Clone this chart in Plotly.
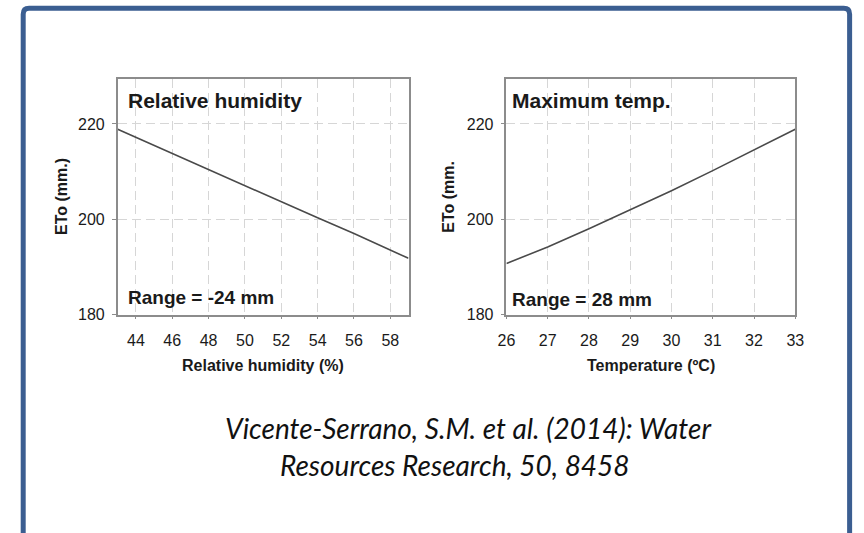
import plotly.graph_objects as go

# ---- data ----
rh_x = [43, 44, 46, 48, 50, 52, 54, 56, 58, 59]
rh_eto = [218.9, 217.2, 213.8, 210.5, 207.1, 203.7, 200.3, 197.0, 193.5, 191.8]
tmax_x = [26, 27, 28, 29, 30, 31, 32, 33]
tmax_eto = [190.7, 194.2, 198.0, 202.0, 206.0, 210.2, 214.5, 218.9]
rh_ticks = [44, 46, 48, 50, 52, 54, 56, 58]
t_ticks = [26, 27, 28, 29, 30, 31, 32, 33]
y_ticks = [180, 200, 220]

W, H = 864, 533
def px(x):
    return x / W
def py(y):
    return 1 - y / H

LINE = "#4a4a4a"
FRAME = "#8c8c8c"
GRID = "#d6d6d6"
TXT = "#1a1a1a"
FONT = "Liberation Sans, Arial, sans-serif"

fig = go.Figure()
fig.add_trace(go.Scatter(x=rh_x, y=rh_eto, mode="lines",
                         line=dict(color=LINE, width=1.6), xaxis="x", yaxis="y",
                         showlegend=False, hoverinfo="skip"))
fig.add_trace(go.Scatter(x=tmax_x, y=tmax_eto, mode="lines",
                         line=dict(color=LINE, width=1.6), xaxis="x2", yaxis="y2",
                         showlegend=False, hoverinfo="skip"))

ydom = [py(320), py(80)]
common_x = dict(showline=True, mirror=True, linecolor=FRAME, linewidth=1.5,
                showgrid=True, gridcolor=GRID, griddash="9px,5px", gridwidth=1,
                ticks="outside", ticklen=3, tickcolor=FRAME, zeroline=False,
                tickfont=dict(family=FONT, size=16, color=TXT), ticklabelstandoff=7)
common_y = dict(showline=True, mirror=True, linecolor=FRAME, linewidth=1.5,
                showgrid=True, gridcolor=GRID, griddash="9px,5px", gridwidth=1,
                ticks="outside", ticklen=4, tickcolor=FRAME, zeroline=False,
                range=[180, 229.5], tickvals=y_ticks,
                tickfont=dict(family=FONT, size=16, color=TXT), ticklabelstandoff=4)

fig.update_layout(
    width=W, height=H, margin=dict(l=0, r=0, t=0, b=0),
    paper_bgcolor="white", plot_bgcolor="white",
    xaxis=dict(domain=[px(111), px(408)], range=[43, 59], tickvals=rh_ticks,
               anchor="y", **common_x),
    yaxis=dict(domain=ydom, anchor="x", **common_y),
    xaxis2=dict(domain=[px(508), px(803)], range=[26, 33], tickvals=t_ticks,
                anchor="y2", **common_x),
    yaxis2=dict(domain=ydom, anchor="x2", **common_y),
)

ann = []
bold = dict(family=FONT, size=16, color=TXT)
# axis titles
ann.append(dict(text="<b>ETo (mm.)</b>", xref="paper", yref="paper", x=px(53.5), y=py(200),
                textangle=-90, showarrow=False, font=bold, xanchor="center", yanchor="middle"))
ann.append(dict(text="<b>ETo (mm.</b>", xref="paper", yref="paper", x=px(448.5), y=py(200),
                textangle=-90, showarrow=False, font=bold, xanchor="center", yanchor="middle"))
ann.append(dict(text="<b>Relative humidity (%)</b>", xref="paper", yref="paper",
                x=px(259.5), y=py(372), showarrow=False, font=bold,
                xanchor="center", yanchor="middle"))
ann.append(dict(text="<b>Temperature (ºC)</b>", xref="paper", yref="paper",
                x=px(655.5), y=py(372), showarrow=False, font=bold,
                xanchor="center", yanchor="middle"))
# panel labels
ann.append(dict(text="<b>Relative humidity</b>", xref="paper", yref="paper",
                x=px(119), y=py(102), showarrow=False,
                font=dict(family=FONT, size=21, color=TXT), xanchor="left", yanchor="middle"))
ann.append(dict(text="<b>Range = -24 mm</b>", xref="paper", yref="paper",
                x=px(119), y=py(303), showarrow=False,
                font=dict(family=FONT, size=19, color=TXT), xanchor="left", yanchor="middle"))
ann.append(dict(text="<b>Maximum temp.</b>", xref="paper", yref="paper",
                x=px(512), y=py(102), showarrow=False,
                font=dict(family=FONT, size=21, color=TXT), xanchor="left", yanchor="middle"))
ann.append(dict(text="<b>Range = 28 mm</b>", xref="paper", yref="paper",
                x=px(512), y=py(305), showarrow=False,
                font=dict(family=FONT, size=19, color=TXT), xanchor="left", yanchor="middle"))
# citation
cite = dict(family="Lato, Open Sans, sans-serif", size=28, color="#111111", style="italic")
ann.append(dict(text="<i>Vicente-Serrano, S.M. et al. (2014): Water</i>", xref="paper", yref="paper",
                x=px(469), y=py(435), showarrow=False, font=cite,
                xanchor="center", yanchor="middle"))
ann.append(dict(text="<i>Resources Research, 50, 8458</i>", xref="paper", yref="paper",
                x=px(455), y=py(473), showarrow=False, font=cite,
                xanchor="center", yanchor="middle"))
fig.update_layout(annotations=ann)

# blue frame around the slide (rounded top corners, open at the bottom)
xl, xr, yt, yb, r = 14.5, 858.5, 8.5, 560, 6
path = (f"M {px(xl)},{py(yb)} L {px(xl)},{py(yt + r)} "
        f"Q {px(xl)},{py(yt)} {px(xl + r)},{py(yt)} "
        f"L {px(xr - r)},{py(yt)} Q {px(xr)},{py(yt)} {px(xr)},{py(yt + r)} "
        f"L {px(xr)},{py(yb)}")
fig.add_shape(type="path", xref="paper", yref="paper", path=path,
              line=dict(color="#3B5E91", width=5), fillcolor="rgba(0,0,0,0)", layer="above")

fig.write_html(
    "out.html",
    config={"displayModeBar": False},
    post_script="document.body.style.margin='0';"
                "document.documentElement.style.overflow='hidden';"
                "document.body.style.overflow='hidden';",
)
